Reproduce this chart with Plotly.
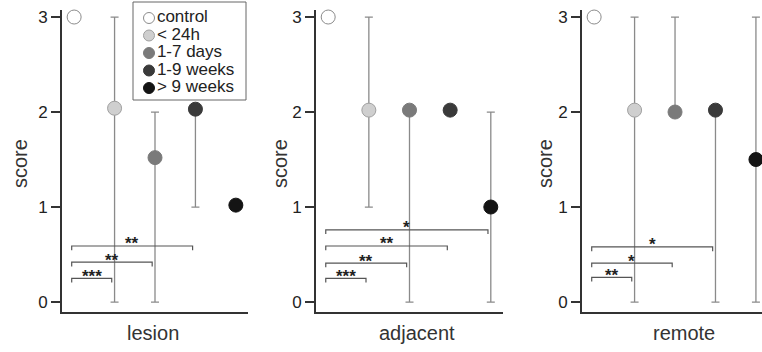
import plotly.graph_objects as go

# ---------------- data ----------------
groups = ["control", "< 24h", "1-7 days", "1-9 weeks", "> 9 weeks"]
regions = ["lesion", "adjacent", "remote"]
positions = [0, 1, 2, 3, 4]

median_lesion = [3.0, 2.04, 1.52, 2.03, 1.02]
low_lesion = [None, 0.0, 0.0, 1.0, None]
high_lesion = [None, 3.0, 2.0, 2.0, None]

median_adjacent = [3.0, 2.02, 2.02, 2.02, 1.0]
low_adjacent = [None, 1.0, 0.0, None, 0.0]
high_adjacent = [None, 3.0, 2.0, None, 2.0]

median_remote = [3.0, 2.02, 2.0, 2.02, 1.5]
low_remote = [None, 0.0, 2.0, 0.0, 0.0]
high_remote = [None, 3.0, 3.0, 2.0, 3.0]

bracket_end_lesion = [1, 2, 3]
bracket_level_lesion = [0.25, 0.42, 0.59]
bracket_label_lesion = ["***", "**", "**"]

bracket_end_adjacent = [1, 2, 3, 4]
bracket_level_adjacent = [0.25, 0.41, 0.59, 0.76]
bracket_label_adjacent = ["***", "**", "**", "*"]

bracket_end_remote = [1, 2, 3]
bracket_level_remote = [0.26, 0.41, 0.58]
bracket_label_remote = ["**", "*", "*"]

y_ticks = [0, 1, 2, 3]

# ---------------- styles ----------------
fill_colors = ["#ffffff", "#cfcfcf", "#7a7a7a", "#3a3a3a", "#141414"]
edge_colors = ["#8c8c8c", "#a0a0a0", "#7a7a7a", "#3a3a3a", "#141414"]
FONT = "Liberation Sans, Arial, sans-serif"
W, H = 762, 352
ML, MR, MT, MB = 0, 0, 0, 40
PH = H - MT - MB  # 312 px plot area (0..312)


def py(px):
    """pixel row -> paper y"""
    return (PH - px) / PH


medians = [median_lesion, median_adjacent, median_remote]
lows = [low_lesion, low_adjacent, low_remote]
highs = [high_lesion, high_adjacent, high_remote]
b_ends = [bracket_end_lesion, bracket_end_adjacent, bracket_end_remote]
b_levels = [bracket_level_lesion, bracket_level_adjacent, bracket_level_remote]
b_labels = [bracket_label_lesion, bracket_label_adjacent, bracket_label_remote]

x_domains = [[62 / W, 248 / W], [316 / W, 503 / W], [582 / W, 1.0]]
x_ranges = [[-0.3, 4.3], [-0.3, 4.3], [-0.3, 4.15]]
ytitle_px = [20, 280, 545]
xtitle_px = [153, 417, 684]

fig = go.Figure()
shapes = []
annotations = []

for p in range(3):
    xa = "x" if p == 0 else f"x{p+1}"
    ya = "y" if p == 0 else f"y{p+1}"
    for g in range(5):
        med = medians[p][g]
        lo = lows[p][g]
        hi = highs[p][g]
        err = dict(visible=False)
        if lo is not None and hi is not None:
            err = dict(type="data", symmetric=False,
                       array=[hi - med], arrayminus=[med - lo],
                       color="#8a8a8a", thickness=1.3, width=4, visible=True)
        fig.add_trace(go.Scatter(
            x=[positions[g]], y=[med], mode="markers",
            marker=dict(size=14, color=fill_colors[g],
                        line=dict(color=edge_colors[g], width=1)),
            error_y=err, xaxis=xa, yaxis=ya, showlegend=False,
            name=groups[g], cliponaxis=False,
        ))
    # significance brackets
    for e, lev, lab in zip(b_ends[p], b_levels[p], b_labels[p]):
        x0 = -0.06
        x1 = e - 0.07
        shapes.append(dict(
            type="path", xref=xa, yref=ya,
            path=f"M {x0},{lev - 0.045} L {x0},{lev} L {x1},{lev} L {x1},{lev - 0.045}",
            line=dict(color="#555555", width=1.2),
        ))
        annotations.append(dict(
            x=(x0 + x1) / 2, y=lev, xref=xa, yref=ya, text=f"<b>{lab}</b>",
            showarrow=False, yanchor="middle", yshift=2,
            font=dict(size=17, color="#222222", family=FONT),
        ))
    annotations.append(dict(
        x=ytitle_px[p] / W, y=py(164), xref="paper", yref="paper", text="score",
        textangle=-90, showarrow=False, xanchor="center", yanchor="middle",
        font=dict(size=20, color="#333333", family=FONT),
    ))
    annotations.append(dict(
        x=xtitle_px[p] / W, y=py(333), xref="paper", yref="paper",
        text=regions[p], showarrow=False, xanchor="center", yanchor="middle",
        font=dict(size=20, color="#333333", family=FONT),
    ))

# legend: one row per group on its own small axis pair
legend_rows = positions
fig.add_trace(go.Scatter(
    x=[0] * len(groups), y=legend_rows, mode="markers+text",
    text=groups, textposition="middle right",
    textfont=dict(size=17, color="#222222", family=FONT),
    marker=dict(size=11, color=fill_colors,
                line=dict(color=edge_colors, width=1)),
    xaxis="x4", yaxis="y4", showlegend=False, hoverinfo="skip",
    cliponaxis=False,
))
shapes.append(dict(
    type="rect", xref="x4 domain", yref="y4 domain", x0=0, x1=1, y0=0, y1=1,
    line=dict(color="#666666", width=1), fillcolor="white", layer="below",
))

layout = dict(
    width=W, height=H,
    margin=dict(l=ML, r=MR, t=MT, b=MB, autoexpand=False),
    paper_bgcolor="white", plot_bgcolor="rgba(0,0,0,0)",
    font=dict(family=FONT, color="#333333"),
    shapes=shapes, annotations=annotations,
    showlegend=False,
)
for p in range(3):
    xk = "xaxis" if p == 0 else f"xaxis{p+1}"
    yk = "yaxis" if p == 0 else f"yaxis{p+1}"
    ya = "y" if p == 0 else f"y{p+1}"
    xa = "x" if p == 0 else f"x{p+1}"
    layout[xk] = dict(domain=x_domains[p], range=x_ranges[p], anchor=ya,
                      showline=True, linecolor="#333333", linewidth=2,
                      showticklabels=False, ticks="", showgrid=False,
                      zeroline=False, fixedrange=True)
    layout[yk] = dict(domain=[0, py(10)], range=[-0.105, 3.074], anchor=xa,
                      showline=True, linecolor="#333333", linewidth=2,
                      ticks="outside", ticklen=9, tickwidth=2, tickcolor="#333333",
                      tickvals=y_ticks, showgrid=False, zeroline=False,
                      tickfont=dict(size=17, color="#222222", family=FONT))
# legend axes: box spans px x 133..246, y 2..100; rows at 18 + 17.5*i
layout["xaxis4"] = dict(domain=[133 / W, 246 / W], range=[-0.16, 0.97],
                        anchor="y4", visible=False, fixedrange=True)
layout["yaxis4"] = dict(domain=[py(100), py(2)],
                        range=[(100 - 18) / 17.5, (2 - 18) / 17.5],
                        anchor="x4", visible=False, fixedrange=True)
fig.update_layout(**layout)
fig.write_html(
    "out.html",
    config={"staticPlot": True},
    post_script="document.body.style.margin='0';document.body.style.overflow='hidden';",
)
